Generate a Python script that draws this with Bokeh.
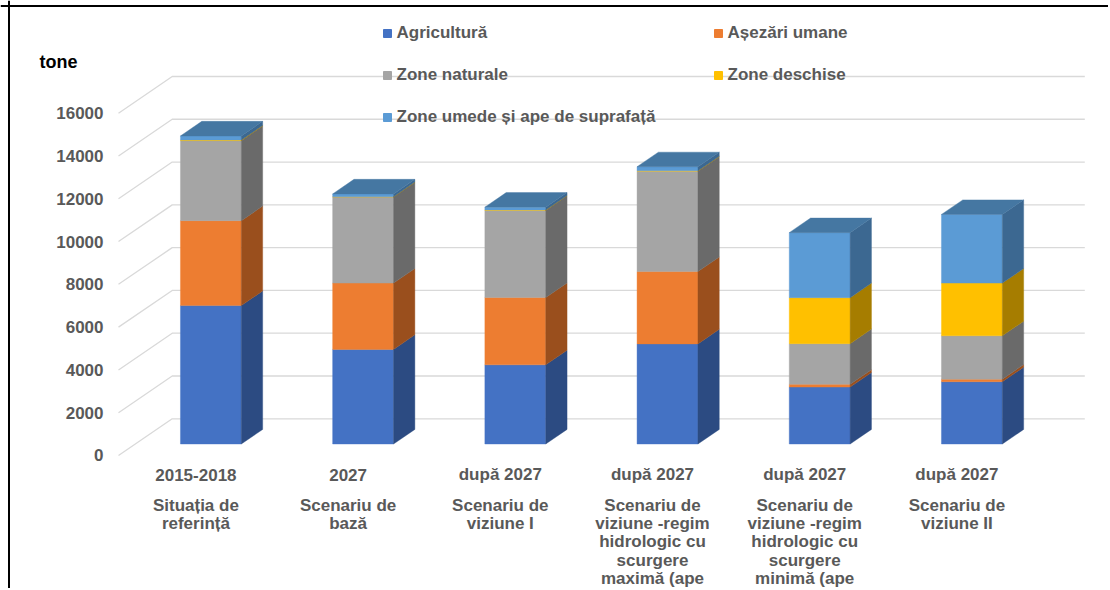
from bokeh.plotting import figure
from bokeh.models import Legend, LegendItem, ColumnDataSource, Span, Range1d
from bokeh.embed import file_html
from bokeh.resources import INLINE
from bokeh.core.properties import value

# ---------------- data ----------------
years = ["2015-2018", "2027", "după 2027", "după 2027", "după 2027", "după 2027"]
scenario_lines = [
    ["Situația de", "referință"],
    ["Scenariu de", "bază"],
    ["Scenariu de", "viziune I"],
    ["Scenariu de", "viziune -regim", "hidrologic cu", "scurgere", "maximă (ape"],
    ["Scenariu de", "viziune -regim", "hidrologic cu", "scurgere", "minimă (ape"],
    ["Scenariu de", "viziune II"],
]
series_names = ["Agricultură", "Așezări umane", "Zone naturale", "Zone deschise",
                "Zone umede și ape de suprafață"]
agricultura = [6470, 4420, 3700, 4680, 2660, 2910]
asezari_umane = [3970, 3100, 3150, 3380, 130, 120]
zone_naturale = [3740, 4020, 4070, 4690, 1900, 2030]
zone_deschise = [30, 20, 20, 20, 2150, 2460]
zone_umede = [190, 130, 130, 190, 3040, 3210]
series_values = [agricultura, asezari_umane, zone_naturale, zone_deschise, zone_umede]

y_ticks = [0, 2000, 4000, 6000, 8000, 10000, 12000, 14000, 16000]
y_tick_labels = [str(t) for t in y_ticks]
y_axis_title = "tone"

front_colors = ["#4472C4", "#ED7D31", "#A5A5A5", "#FFC000", "#5B9BD5"]
side_colors = ["#2C4B82", "#9A4F1D", "#6A6A6A", "#A67D00", "#3C6891"]
top_colors = ["#3A5E9E", "#C0652A", "#8C8C8C", "#D9A300", "#4577A2"]

# ---------------- calibration (screen layout) ----------------
W, H = 1108, 588
PAGE = 0
PX_X0 = 210.4          # page x of category 0 (bar front centre)
PX_PER_CAT = 152.2
PY0 = 443.5            # page y of value 0 on bar front
PX_PER_VAL = 342.3 / 16000.0


def fx(px):
    return (px - PX_X0) / PX_PER_CAT


def fy(py):
    return (PY0 - py) / PX_PER_VAL


DEPTH_X = 53.7 / PX_PER_CAT
DEPTH_Y = 36.7 / PX_PER_VAL
BAR_FRONT = 0.313
BAR_BACK = 0.71
BAR_HALF = 0.2
bdx = (BAR_BACK - BAR_FRONT) * DEPTH_X
bdy = (BAR_BACK - BAR_FRONT) * DEPTH_Y

p = figure(width=W, height=H, output_backend="svg", toolbar_location=None,
           x_axis_location=None, y_axis_location=None, min_border=0,
           x_range=Range1d(fx(PAGE), fx(PAGE + W)),
           y_range=Range1d(fy(PAGE + H), fy(PAGE)),
           outline_line_color=None, background_fill_color="white")
p.xgrid.visible = False
p.ygrid.visible = False

FONT = value("Liberation Sans")
GRAY_TXT = "#595959"

# ---------------- gridlines (floor diagonals + back wall) ----------------
xL = fx(118)
xB = xL + DEPTH_X
xR = fx(1084.3)
g_xs, g_ys = [], []
for t in y_ticks:
    yf = t - BAR_FRONT * DEPTH_Y
    yb = yf + DEPTH_Y
    g_xs.append([xL, xB, xR])
    g_ys.append([yf, yb, yb])
p.multi_line(xs=g_xs, ys=g_ys, line_color="#D9D9D9", line_width=1.3)

# ---------------- bars ----------------
n = len(years)
cum = [0.0] * n
front_renderers = []
side_xs, side_ys, side_c = [], [], []
for k, vals in enumerate(series_values):
    bottoms = list(cum)
    tops = [cum[i] + vals[i] for i in range(n)]
    src = ColumnDataSource(dict(left=[i - BAR_HALF for i in range(n)],
                                right=[i + BAR_HALF for i in range(n)],
                                bottom=bottoms, top=tops))
    r = p.quad(left="left", right="right", bottom="bottom", top="top", source=src,
               fill_color=front_colors[k], line_color=front_colors[k], line_width=0.4)
    front_renderers.append(r)
    for i in range(n):
        xr = i + BAR_HALF
        side_xs.append([xr, xr + bdx, xr + bdx, xr])
        side_ys.append([bottoms[i], bottoms[i] + bdy, tops[i] + bdy, tops[i]])
        side_c.append(side_colors[k])
    cum = tops

p.patches(xs=side_xs, ys=side_ys, fill_color=side_c, line_color=side_c, line_width=0.4)

top_xs, top_ys, top_c = [], [], []
for i in range(n):
    top_series = max(k for k in range(len(series_values)) if series_values[k][i] > 0)
    T = cum[i]
    xl, xr = i - BAR_HALF, i + BAR_HALF
    top_xs.append([xl, xl + bdx, xr + bdx, xr])
    top_ys.append([T, T + bdy, T + bdy, T])
    top_c.append(top_colors[top_series])
p.patches(xs=top_xs, ys=top_ys, fill_color=top_c, line_color=top_c, line_width=0.4)

# ---------------- y tick labels ----------------
p.text(x=[fx(103)] * len(y_ticks), y=[t - BAR_FRONT * DEPTH_Y for t in y_ticks],
       text=y_tick_labels, text_align="right", text_baseline="middle",
       text_font=FONT, text_font_style="bold", text_font_size="17px",
       text_color=GRAY_TXT)

p.text(x=[fx(39)], y=[fy(61)], text=[y_axis_title], text_align="left",
       text_baseline="middle", text_font=FONT, text_font_style="bold",
       text_font_size="18px", text_color="#000000")

# ---------------- category labels ----------------
LBL_SHIFT = -15 / PX_PER_CAT
p.text(x=[i + LBL_SHIFT for i in range(n)], y=[fy(474)] * n, text=years,
       text_align="center", text_baseline="middle", text_font=FONT,
       text_font_style="bold", text_font_size="17px", text_color=GRAY_TXT)
sx, sy, st = [], [], []
for i, lines in enumerate(scenario_lines):
    for j, line in enumerate(lines):
        sx.append(i + LBL_SHIFT)
        sy.append(fy(504.5 + 18.4 * j))
        st.append(line)
p.text(x=sx, y=sy, text=st, text_align="center", text_baseline="middle",
       text_font=FONT, text_font_style="bold", text_font_size="17px",
       text_color=GRAY_TXT)

# ---------------- frame border (top + left) ----------------
p.add_layout(Span(location=fy(5.5), dimension="width", line_color="black", line_width=2))
p.add_layout(Span(location=fx(8.5), dimension="height", line_color="black", line_width=2))

# ---------------- legend ----------------
legend_markers = []
for k in range(len(series_names)):
    legend_markers.append(p.scatter(x=[fx(-500)], y=[fy(-500)], marker="square", size=8,
                                    fill_color=front_colors[k], line_color=front_colors[k]))
legend = Legend(items=[LegendItem(label=series_names[k], renderers=[legend_markers[k]])
                       for k in range(len(series_names))],
                ncols=2, orientation="horizontal",
                location=(376.5, 461), margin=0, padding=0, spacing=22,
                glyph_width=20, glyph_height=20, label_height=20, label_width=289,
                label_standoff=0, border_line_color=None, background_fill_alpha=0,
                label_text_font="Liberation Sans", label_text_font_style="bold",
                label_text_font_size="17px", label_text_color=GRAY_TXT)
p.add_layout(legend)

open("out.html", "w").write(file_html(p, INLINE))
